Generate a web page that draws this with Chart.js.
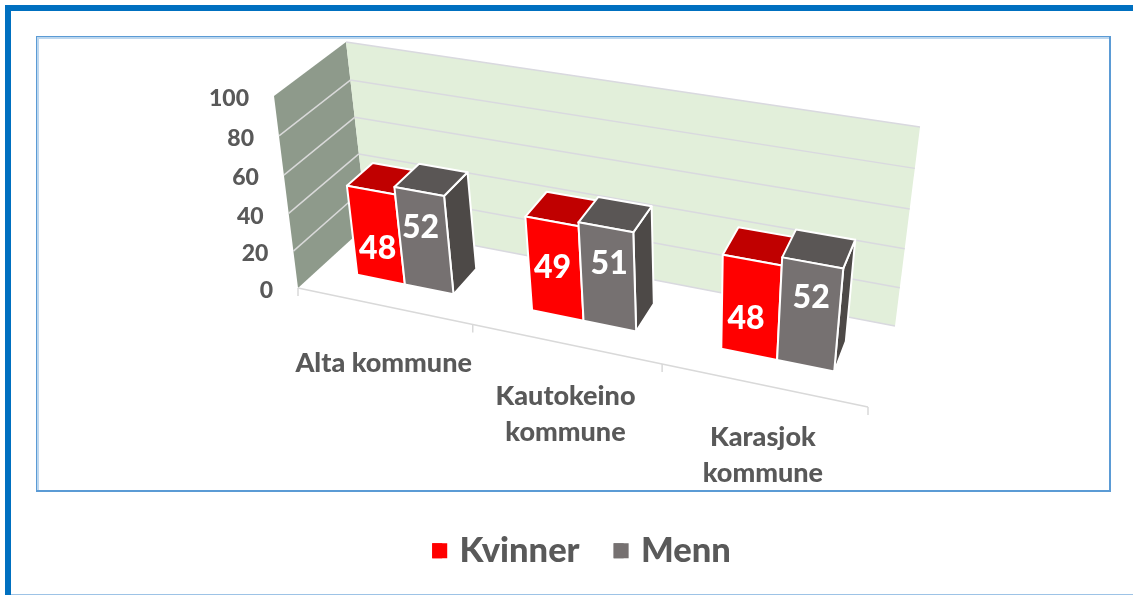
<!DOCTYPE html>
<html><head><meta charset="utf-8">
<script src="https://cdn.jsdelivr.net/npm/chart.js@4"></script>
<style>
html,body{margin:0;padding:0;background:#fff;width:1133px;height:595px;overflow:hidden}
#wrap{position:relative;width:1133px;height:595px;overflow:hidden}
canvas{position:absolute;left:0;top:0}
.outerTop{position:absolute;left:5px;top:5px;right:0;height:6px;background:#0070C0}
.outerLeft{position:absolute;left:5px;top:5px;bottom:0;width:6px;background:#0070C0}
.outerBottom{position:absolute;left:11px;right:0;top:594px;height:1px;background:#9DC3E6}
.inner{position:absolute;left:36px;top:36px;width:1072px;height:453px;border:1px solid #5B9BD5;border-right-width:2px;border-bottom-width:2px;box-shadow:inset 2px 2px 0 #BDD7EE}
</style></head><body>
<div id="wrap">
<div class="outerTop"></div><div class="outerLeft"></div><div class="outerBottom"></div><div class="inner"></div>
<canvas id="c" width="1133" height="595"></canvas>
</div>
<script>
const categories = ['Alta kommune', ['Kautokeino', 'kommune'], ['Karasjok', 'kommune']];
const kvinner = [48, 49, 48];
const menn = [52, 51, 52];
const yTicks = [0, 20, 40, 60, 80, 100];

// Projection frame of the 3D box (screen corners)
const floorQuad = [[298,288],[868,407],[895,326],[367,225]];
const topQuad   = [[274,96],[892,201],[920,127],[346,42]];
const barDepth = [0.31, 0.69];
const barStretch = 1.005;
const labelNudge = [[[2,13],[-3,-13]],[[-1,-1],[3,-13]],[[-2,11],[5,-17]]];
const catNudge = [5, 0, 0];

function homography(q){
  const [p0,p1,p2,p3]=q;
  const dx1=p1[0]-p2[0],dx2=p3[0]-p2[0],sx=p0[0]-p1[0]+p2[0]-p3[0];
  const dy1=p1[1]-p2[1],dy2=p3[1]-p2[1],sy=p0[1]-p1[1]+p2[1]-p3[1];
  const den=dx1*dy2-dx2*dy1;
  const g=(sx*dy2-dx2*sy)/den,h=(dx1*sy-sx*dy1)/den;
  const a=p1[0]-p0[0]+g*p1[0],b=p3[0]-p0[0]+h*p3[0],c=p0[0];
  const d=p1[1]-p0[1]+g*p1[1],e=p3[1]-p0[1]+h*p3[1],f=p0[1];
  return (u,w)=>{const k=g*u+h*w+1;return [(a*u+b*w+c)/k,(d*u+e*w+f)/k];};
}
const hFloor=homography(floorQuad), hTop=homography(topQuad);
function proj(u,v,w){
  const t=v/(v+(1-v)*1.05);
  const A=hFloor(u,w),B=hTop(u,w);
  return [A[0]+(B[0]-A[0])*t,A[1]+(B[1]-A[1])*t];
}
function poly(ctx,pts,fill,stroke,lw){
  ctx.beginPath();pts.forEach((p,i)=>i?ctx.lineTo(p[0],p[1]):ctx.moveTo(p[0],p[1]));ctx.closePath();
  if(fill){ctx.fillStyle=fill;ctx.fill();}
  if(stroke){ctx.strokeStyle=stroke;ctx.lineWidth=lw||1;ctx.lineJoin='round';ctx.stroke();}
}
function line(ctx,a,b,color,lw){ctx.beginPath();ctx.moveTo(a[0],a[1]);ctx.lineTo(b[0],b[1]);ctx.strokeStyle=color;ctx.lineWidth=lw;ctx.stroke();}
const shades=[{front:'#FF0000',top:'#C00000',side:'#A00000'},{front:'#767171',top:'#5A5655',side:'#4D4947'}];

const box3d={
  id:'box3d',
  beforeDatasetsDraw(chart){
    const ctx=chart.ctx,a=chart.chartArea,xS=chart.scales.x,yS=chart.scales.y;
    const U=x=>(x-a.left)/(a.right-a.left), V=y=>(a.bottom-y)/(a.bottom-a.top);
    ctx.save();
    poly(ctx,[proj(0,0,0),proj(0,1,0),proj(0,1,1),proj(0,0,1)],'#8E9A8B');
    poly(ctx,[proj(0,0,1),proj(0,1,1),proj(1,1,1),proj(1,0,1)],'#E2EFDA');
    yS.ticks.forEach(t=>{
      const v=V(yS.getPixelForValue(t.value));
      if(v>0&&v<1)line(ctx,proj(0,v,0),proj(0,v,1),'#D9D9D9',1.5);
      line(ctx,proj(0,v,1),proj(1,v,1),'#D9D9DF',1.5);
    });
    line(ctx,proj(0,0,0),proj(1,0,0),'#D9D9D9',1.5);
    const n=xS.ticks.length;
    for(let i=0;i<=n;i++){const p=proj(i/n,0,0);line(ctx,p,[p[0],p[1]+8],'#D9D9D9',1.5);}
    const m0=chart.getDatasetMeta(0),m1=chart.getDatasetMeta(1);
    for(let i=0;i<n;i++){
      [m0,m1].forEach((m,s)=>{
        const el=m.data[i],c=shades[s];
        const u0=U(el.x-el.width/2)*barStretch,u1=U(el.x+el.width/2)*barStretch,v=V(el.y),vb=V(el.base);
        const [w0,w1]=barDepth;
        poly(ctx,[proj(u1,vb,w0),proj(u1,v,w0),proj(u1,v,w1),proj(u1,vb,w1)],c.side,'#fff',2);
        poly(ctx,[proj(u0,v,w0),proj(u1,v,w0),proj(u1,v,w1),proj(u0,v,w1)],c.top,'#fff',2);
        poly(ctx,[proj(u0,vb,w0),proj(u1,vb,w0),proj(u1,v,w0),proj(u0,v,w0)],c.front,'#fff',2);
      });
    }
    ctx.fillStyle='#fff';ctx.font='900 32px Lato';ctx.textAlign='center';ctx.textBaseline='middle';
    for(let i=0;i<n;i++){
      [m0,m1].forEach((m,s)=>{
        const el=m.data[i];
        const p=proj(U(el.x),V(el.y)/2,barDepth[0]),d=labelNudge[i][s];
        ctx.fillText(chart.data.datasets[s].data[i],p[0]+d[0],p[1]+d[1]);
      });
    }
    ctx.fillStyle='#595959';ctx.font='900 23px Lato';ctx.textAlign='right';
    yS.ticks.forEach(t=>{
      const p=proj(0,V(yS.getPixelForValue(t.value)),0);
      ctx.fillText(t.label,p[0]-25,p[1]+3);
    });
    ctx.font='900 27px Lato';ctx.textAlign='center';
    categories.forEach((lab,i)=>{
      const p=proj(U(xS.getPixelForValue(i)),0,0);
      [].concat(lab).forEach((s,j)=>ctx.fillText(s,p[0],p[1]+52.5+catNudge[i]+j*36));
    });
    ctx.restore();
    return false;
  }
};
// widen the legend swatches to squares while keeping the reference's label spacing
const legendSquares={
  id:'legendSquares',
  afterDraw(chart){
    const ctx=chart.ctx,L=chart.legend;
    L.legendHitBoxes.forEach((h,i)=>{
      ctx.fillStyle=chart.data.datasets[i].backgroundColor;
      ctx.fillRect(h.left,h.top+(h.height-15)/2,15,15);
    });
  }
};

new Chart(document.getElementById('c'),{
  type:'bar',
  data:{labels:categories,datasets:[
    {label:'Kvinner',data:kvinner,backgroundColor:'#FF0000',categoryPercentage:0.56,barPercentage:1},
    {label:'Menn',data:menn,backgroundColor:'#767171',categoryPercentage:0.56,barPercentage:1}
  ]},
  options:{
    responsive:false,animation:false,
    layout:{padding:{left:30,right:0,top:10,bottom:17}},
    scales:{
      x:{display:false},
      y:{display:false,min:yTicks[0],max:yTicks[yTicks.length-1],ticks:{stepSize:20}}
    },
    plugins:{
      tooltip:{enabled:false},
      legend:{position:'bottom',labels:{boxWidth:10,boxHeight:15,padding:34,color:'#595959',font:{family:'Lato',weight:'900',size:34.5}}}
    }
  },
  plugins:[box3d,legendSquares]
});
</script>
</body></html>
